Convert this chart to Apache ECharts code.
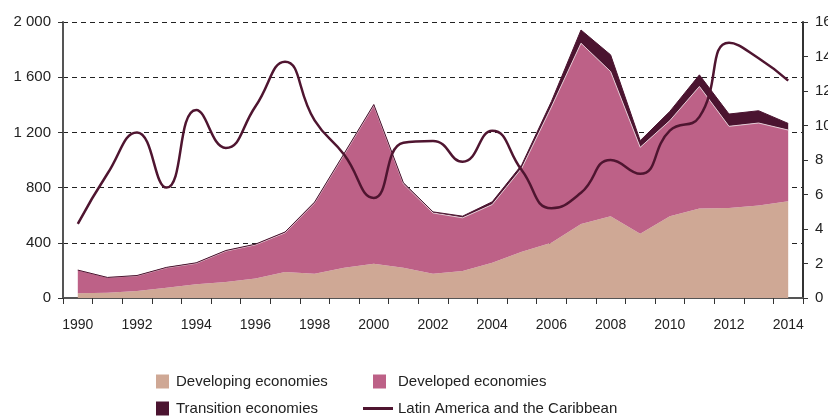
<!DOCTYPE html>
<html>
<head>
<meta charset="utf-8">
<script src="https://cdn.jsdelivr.net/npm/echarts@6/dist/echarts.min.js"></script>
<style>
  html, body { margin: 0; padding: 0; background: #fff; }
  #main { width: 828px; height: 416px; }
</style>
</head>
<body>
<div id="main"></div>
<script>
// years on the x axis
var years = ['1990','1991','1992','1993','1994','1995','1996','1997','1998','1999','2000','2001',
             '2002','2003','2004','2005','2006','2007','2008','2009','2010','2011','2012','2013','2014'];
// left axis, stacked areas
var developing = [34, 38, 50, 75, 99, 116, 142, 188, 176, 219, 248, 219,
                  176, 195, 255, 335, 400, 537, 593, 465, 593, 648, 653, 670, 701];
var developed  = [168, 111, 111, 144, 152, 224, 243, 284, 513, 821, 1147, 608,
                  440, 386, 422, 606, 984, 1309, 1048, 627, 692, 885, 591, 598, 516];
var transition = [0, 0, 2, 3, 4, 4, 5, 6, 6, 8, 7, 8,
                  8, 12, 20, 25, 40, 96, 121, 48, 67, 84, 89, 89, 48];
// right axis, line
var latinAmerica = [4.3, 7.2, 9.6, 6.4, 10.9, 8.7, 11.1, 13.7, 10.3, 8.3, 5.8, 9.0,
                    9.1, 7.9, 9.7, 7.4, 5.2, 6.1, 8.0, 7.2, 9.7, 10.5, 14.8, 13.9, 12.6];

var myChart = echarts.init(document.getElementById('main'));

var font = 'Liberation Sans, Arial, sans-serif';
var legendText = { fontFamily: font, fontSize: 15, color: '#222' };

myChart.setOption({
    animation: false,
    grid: { left: 63, right: 25, top: 22, bottom: 118, outerBoundsMode: 'none', containLabel: false },
    legend: [
        { data: ['Developing economies'], left: 156, top: 374, padding: 0, icon: 'rect',
          itemWidth: 13, itemHeight: 14, textStyle: Object.assign({ padding: [0, 0, 0, 2] }, legendText) },
        { data: ['Developed economies'], left: 373, top: 374, padding: 0, icon: 'rect',
          itemWidth: 13, itemHeight: 14, textStyle: Object.assign({ padding: [0, 0, 0, 7] }, legendText) },
        { data: ['Transition economies'], left: 156, top: 401, padding: 0, icon: 'rect',
          itemWidth: 13, itemHeight: 14, textStyle: Object.assign({ padding: [0, 0, 0, 2] }, legendText) },
        { data: ['Latin America and the Caribbean'], left: 363, top: 401, padding: 0, icon: 'rect',
          itemWidth: 30, itemHeight: 3, textStyle: Object.assign({ padding: [0, 0, 0, 0] }, legendText) }
    ],
    xAxis: {
        type: 'category',
        data: years,
        boundaryGap: true,
        axisLine: { lineStyle: { color: '#555', width: 2 } },
        axisTick: { show: true, length: 6, alignWithLabel: false, interval: 0, lineStyle: { color: '#333' } },
        axisLabel: { interval: 1, margin: 20, fontFamily: font, fontSize: 14, color: '#222' },
        splitLine: { show: false }
    },
    yAxis: [
        {
            type: 'value', min: 0, max: 2000, interval: 400,
            axisLine: { show: true, lineStyle: { color: '#555', width: 2 } },
            axisTick: { show: true, length: 5, lineStyle: { color: '#333' } },
            axisLabel: {
                margin: 12, fontFamily: font, fontSize: 15, color: '#222',
                formatter: function (v) { return String(v).replace(/\B(?=(\d{3})+(?!\d))/g, ' '); }
            },
            splitLine: { show: true, lineStyle: { color: '#222', type: [5, 4], width: 1 } }
        },
        {
            type: 'value', min: 0, max: 16, interval: 2,
            axisLine: { show: true, lineStyle: { color: '#333', width: 2 } },
            axisTick: { show: true, length: 5, lineStyle: { color: '#333' } },
            axisLabel: { margin: 12, fontFamily: font, fontSize: 15, color: '#222' },
            splitLine: { show: false }
        }
    ],
    series: [
        {
            name: 'Developing economies', type: 'line', stack: 'total', data: developing,
            symbol: 'none', lineStyle: { width: 0 },
            itemStyle: { color: '#cfa895' },
            areaStyle: { color: '#cfa895', opacity: 1 }
        },
        {
            name: 'Developed economies', type: 'line', stack: 'total', data: developed,
            symbol: 'none', lineStyle: { width: 1, color: '#e3c9d3' },
            itemStyle: { color: '#bd6187' },
            areaStyle: { color: '#bd6187', opacity: 1 }
        },
        {
            name: 'Transition economies', type: 'line', stack: 'total', data: transition,
            symbol: 'none', lineStyle: { width: 1, color: '#4b1430' },
            itemStyle: { color: '#4b1430' },
            areaStyle: { color: '#4b1430', opacity: 1 }
        },
        {
            name: 'Latin America and the Caribbean', type: 'line', yAxisIndex: 1, data: latinAmerica,
            smooth: 0.5, symbol: 'none',
            lineStyle: { width: 2.5, color: '#4f1530' },
            itemStyle: { color: '#4f1530' },
            z: 5
        }
    ]
});
</script>
</body>
</html>
